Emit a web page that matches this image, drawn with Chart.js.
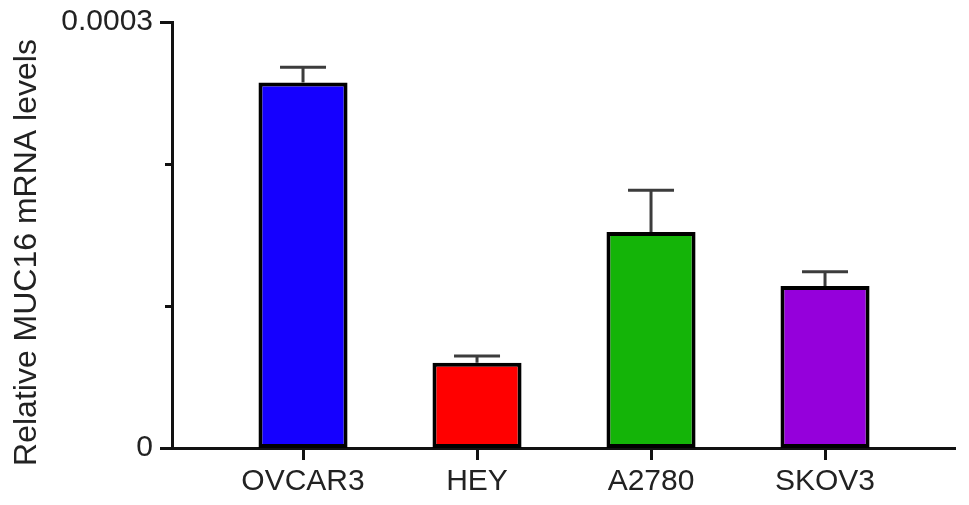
<!DOCTYPE html>
<html>
<head>
<meta charset="utf-8">
<title>MUC16 mRNA</title>
<script src="https://cdn.jsdelivr.net/npm/chart.js@4/dist/chart.umd.min.js"></script>
<style>
  html, body { margin: 0; padding: 0; background: #ffffff; }
  #wrap { width: 969px; height: 505px; position: relative; }
</style>
</head>
<body>
<div id="wrap"><canvas id="barChart"></canvas></div>
<script>
// 数据
const categories = ['OVCAR3', 'HEY', 'A2780', 'SKOV3'];
const meanValues = [0.0002574, 0.0000601, 0.0001521, 0.0001141];
const errValues = [0.0000107, 0.0000047, 0.0000294, 0.0000101];
const yTickValues = [0, 0.0001, 0.0002, 0.0003];
const yTickLabels = ['0', '', '', '0.0003'];
const yTitle = 'Relative MUC16 mRNA levels';

// 样式
const barColors = ['#1500FF', '#FF0000', '#14B408', '#9500DB'];
const TEXT_COLOR = '#222222';
const AXIS_COLOR = '#111111';
const ERR_COLOR = '#3c3c3c';
const FONT = "'Liberation Sans', Arial, Helvetica, sans-serif";

Chart.defaults.font.family = FONT;
Chart.defaults.color = TEXT_COLOR;

// 误差线 + y 轴刻度 + y 轴标题
const extrasPlugin = {
    id: 'extras',
    afterDatasetsDraw(chart) {
        const ctx = chart.ctx;
        const xs = chart.scales.x;
        const ys = chart.scales.y;
        ctx.save();
        ctx.strokeStyle = ERR_COLOR;
        ctx.lineWidth = 3;
        ctx.lineCap = 'butt';
        meanValues.forEach((m, i) => {
            const px = xs.getPixelForValue(i);
            const yTop = ys.getPixelForValue(m);
            const yErr = ys.getPixelForValue(m + errValues[i]);
            ctx.beginPath();
            ctx.moveTo(px, yTop);
            ctx.lineTo(px, yErr);
            ctx.moveTo(px - 23, yErr);
            ctx.lineTo(px + 23, yErr);
            ctx.stroke();
        });
        ctx.restore();
    },
    afterDraw(chart) {
        const ctx = chart.ctx;
        const ys = chart.scales.y;
        const left = chart.chartArea.left;
        ctx.save();
        ctx.strokeStyle = AXIS_COLOR;
        ctx.lineWidth = 3;
        yTickValues.forEach((v, i) => {
            const py = Math.round(ys.getPixelForValue(v)) + 0.5;
            const len = yTickLabels[i] ? 12 : 7;
            ctx.beginPath();
            ctx.moveTo(left - len, py);
            ctx.lineTo(left, py);
            ctx.stroke();
        });
        // y 轴标题，按整张图竖直居中
        ctx.fillStyle = TEXT_COLOR;
        ctx.font = '32px ' + FONT;
        ctx.textAlign = 'center';
        ctx.textBaseline = 'alphabetic';
        ctx.translate(36, chart.height / 2);
        ctx.rotate(-Math.PI / 2);
        ctx.fillText(yTitle, 0, 0);
        ctx.restore();
    }
};

const ctx = document.getElementById('barChart').getContext('2d');
new Chart(ctx, {
    type: 'bar',
    data: {
        datasets: [{
            data: meanValues.map((m, i) => ({ x: i, y: m })),
            backgroundColor: barColors,
            borderColor: '#000000',
            borderWidth: 4,
            borderSkipped: false,
            categoryPercentage: 1,
            barPercentage: 0.512
        }]
    },
    options: {
        responsive: true,
        maintainAspectRatio: false,
        animation: false,
        layout: { padding: { top: 22, right: 14, left: 0, bottom: 0 } },
        plugins: {
            legend: { display: false },
            tooltip: { enabled: false }
        },
        scales: {
            x: {
                type: 'linear',
                offset: false,
                min: -0.753,
                max: 3.747,
                afterBuildTicks: s => { s.ticks = categories.map((_, i) => ({ value: i })); },
                afterFit: s => { s.height = 57; s.paddingLeft = 0; s.paddingRight = 0; },
                grid: {
                    offset: false,
                    drawOnChartArea: false,
                    drawTicks: true,
                    tickLength: 12,
                    tickWidth: 3,
                    tickColor: AXIS_COLOR
                },
                border: { display: true, color: AXIS_COLOR, width: 3 },
                ticks: {
                    autoSkip: false,
                    maxRotation: 0,
                    padding: 4,
                    color: TEXT_COLOR,
                    font: { size: 30 },
                    callback: v => categories[v] ?? ''
                }
            },
            y: {
                min: 0,
                max: 0.0003,
                afterBuildTicks: s => { s.ticks = yTickValues.map(v => ({ value: v })); },
                afterFit: s => { s.width = 172; s.paddingTop = 0; s.paddingBottom = 0; },
                grid: { display: false, drawTicks: false },
                border: { display: true, color: AXIS_COLOR, width: 3 },
                ticks: {
                    padding: 19,
                    color: TEXT_COLOR,
                    font: { size: 30 },
                    callback: (v, i) => yTickLabels[i]
                }
            }
        }
    },
    plugins: [extrasPlugin]
});
</script>
</body>
</html>
